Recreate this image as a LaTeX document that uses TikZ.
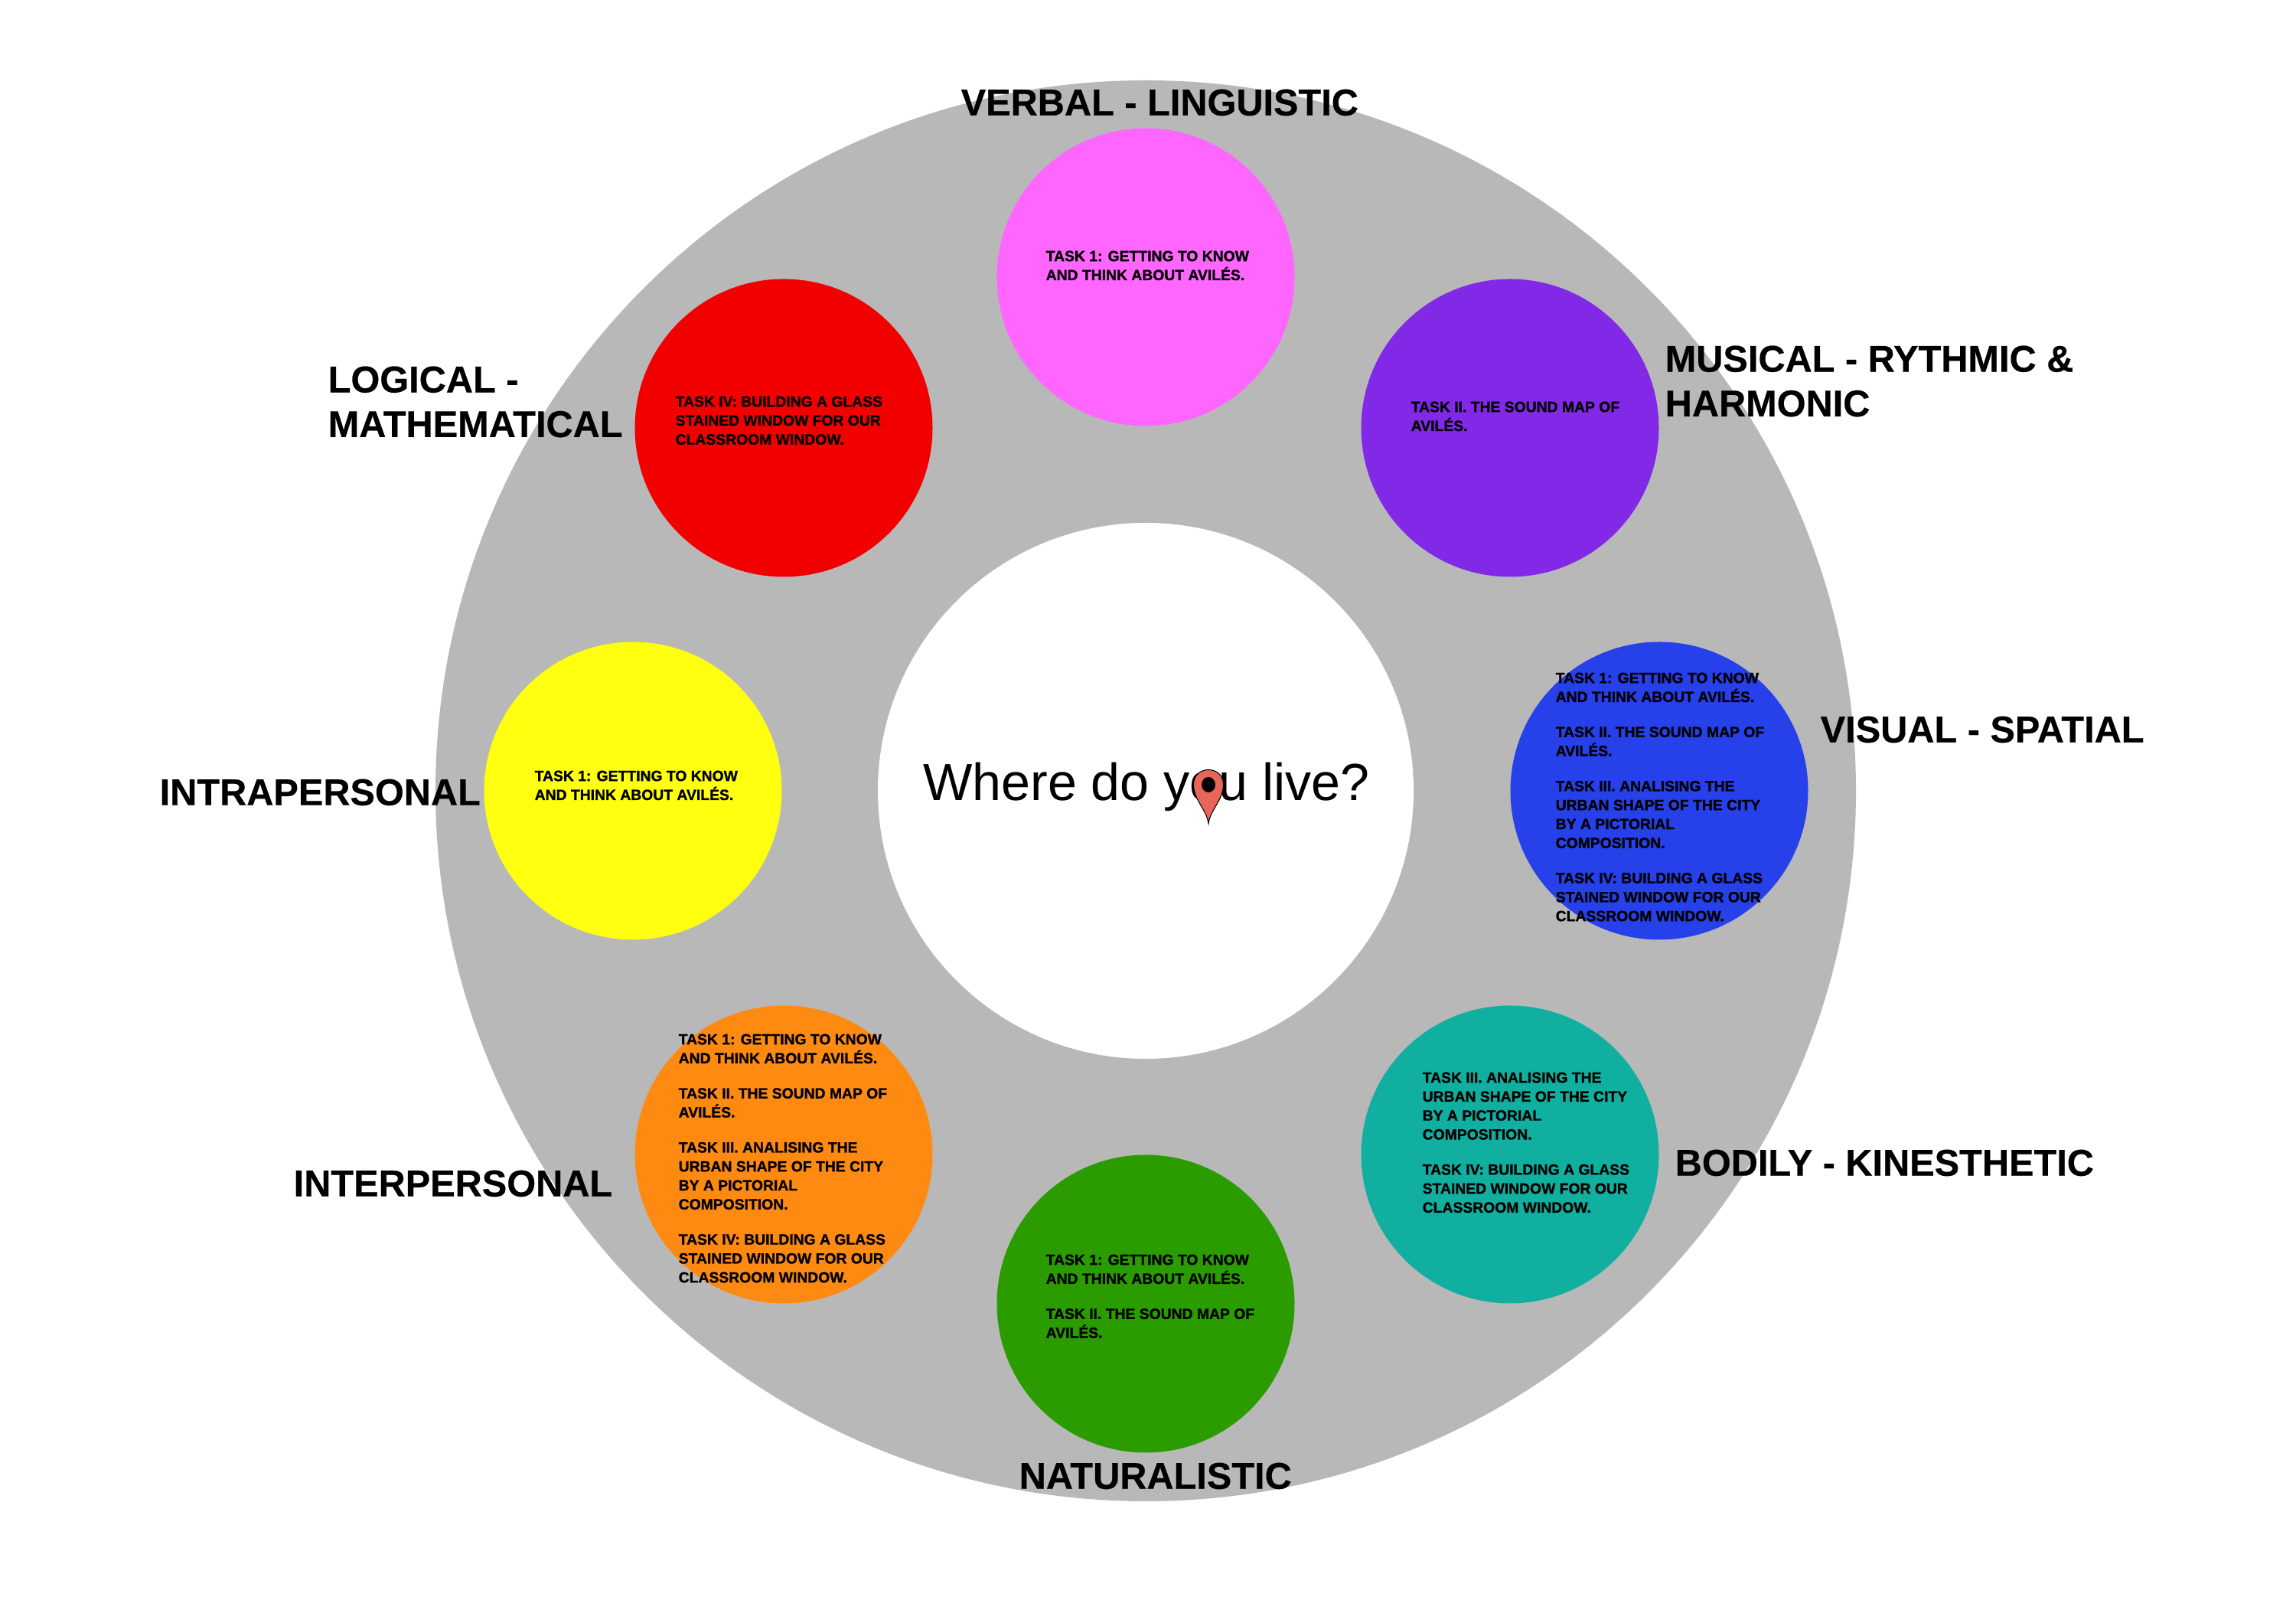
\documentclass[tikz,border=0pt]{standalone}
\usepackage{fontspec}
\setmainfont{Liberation Sans}
\newfontfamily\taskfont[FakeBold=1.2]{Liberation Sans Bold}
\newfontfamily\labelfont[FakeBold=0.4]{Liberation Sans Bold}
\usetikzlibrary{positioning}

\definecolor{ringgray}{HTML}{B8B8B8}
\definecolor{verbalpink}{HTML}{FF66FF}
\definecolor{logicalred}{HTML}{F20000}
\definecolor{musicalpurple}{HTML}{8229E8}
\definecolor{visualblue}{HTML}{2640EA}
\definecolor{bodilyteal}{HTML}{10AFA0}
\definecolor{naturegreen}{HTML}{2B9C00}
\definecolor{interorange}{HTML}{FF8A12}
\definecolor{intrayellow}{HTML}{FFFF10}
\definecolor{pinred}{HTML}{E8655A}

\newcommand{\taskgap}{\\[6pt]}
\newcommand{\taskA}{TASK 1: GETTING TO KNOW\\AND THINK ABOUT AVILÉS.}
\newcommand{\taskB}{TASK II. THE SOUND MAP OF\\AVILÉS.}
\newcommand{\taskC}{TASK III. ANALISING THE\\URBAN SHAPE OF THE CITY\\BY A PICTORIAL\\COMPOSITION.}
\newcommand{\taskD}{TASK IV: BUILDING A GLASS\\STAINED WINDOW FOR OUR\\CLASSROOM WINDOW.}

\tikzset{
    disc/.style={circle,minimum size=3.89cm,inner sep=0pt},
    tasktext/.style={anchor=north west,align=left,inner sep=0pt,
        font=\taskfont\fontsize{5.5pt}{7.05pt}\selectfont},
    intellabel/.style={anchor=west,align=left,inner sep=0pt,
        font=\labelfont\fontsize{13.85pt}{16.6pt}\selectfont},
}

\begin{document}
\begin{tikzpicture}[x=1cm,y=1cm]
    \useasboundingbox (0,0) rectangle (30,21.2);

    % ring
    \node[circle,fill=ringgray,minimum size=18.56cm,inner sep=0pt] (ring) at (14.97,10.87) {};
    \node[circle,fill=white,minimum size=7cm,inner sep=0pt] (hub) at (14.97,10.87) {};

    % discs
    \node[disc,fill=verbalpink] (verbal) at (14.97,17.58) {};
    \node[disc,fill=musicalpurple] (musical) at (19.73,15.61) {};
    \node[disc,fill=visualblue] (visual) at (21.68,10.87) {};
    \node[disc,fill=bodilyteal] (bodily) at (19.73,6.12) {};
    \node[disc,fill=naturegreen] (naturalistic) at (14.97,4.17) {};
    \node[disc,fill=interorange] (interpersonal) at (10.24,6.12) {};
    \node[disc,fill=intrayellow] (intrapersonal) at (8.27,10.87) {};
    \node[disc,fill=logicalred] (logical) at (10.24,15.61) {};

    % tasks
    \node[tasktext] (verbaltasks) at (13.66,17.93) {\taskA};
    \node[tasktext] (musicaltasks) at (18.43,15.96) {\taskB};
    \node[tasktext] (visualtasks) at (20.32,12.42) {\taskA\taskgap\taskB\taskgap\taskC\taskgap\taskD};
    \node[tasktext] (bodilytasks) at (18.58,7.2) {\taskC\taskgap\taskD};
    \node[tasktext] (naturetasks) at (13.66,4.82) {\taskA\taskgap\taskB};
    \node[tasktext] (intertasks) at (8.86,7.70) {\taskA\taskgap\taskB\taskgap\taskC\taskgap\taskD};
    \node[tasktext] (intratasks) at (6.98,11.14) {\taskA};
    \node[tasktext] (logicaltasks) at (8.82,16.03) {\taskD};

    % intelligences
    \node[intellabel] (verballabel) at (12.55,19.86) {VERBAL - LINGUISTIC};
    \node[intellabel] (musicallabel) at (21.75,16.22) {MUSICAL - RYTHMIC \&\\HARMONIC};
    \node[intellabel] (visuallabel) at (23.78,11.67) {VISUAL - SPATIAL};
    \node[intellabel] (bodilylabel) at (21.88,6.01) {BODILY - KINESTHETIC};
    \node[intellabel] (naturelabel) at (13.31,1.92) {NATURALISTIC};
    \node[intellabel] (interlabel) at (3.83,5.74) {INTERPERSONAL};
    \node[intellabel] (intralabel) at (2.08,10.85) {INTRAPERSONAL};
    \node[intellabel] (logicallabel) at (4.28,15.95) {LOGICAL -\\MATHEMATICAL};

    % title and pin
    \node[font=\fontsize{19.4pt}{22pt}\selectfont,inner sep=0pt] (title) at (14.98,10.92) {Where do you live?};
    \draw[fill=pinred,line width=0.3pt] (15.79,10.44)
        .. controls (15.77,10.62) and (15.595,10.75) .. (15.595,10.95)
        .. controls (15.595,11.21) and (15.985,11.21) .. (15.985,10.95)
        .. controls (15.985,10.75) and (15.81,10.62) .. (15.79,10.44) -- cycle;
    \fill[black] (15.79,10.95) ellipse (0.09 and 0.1);
\end{tikzpicture}
\end{document}
